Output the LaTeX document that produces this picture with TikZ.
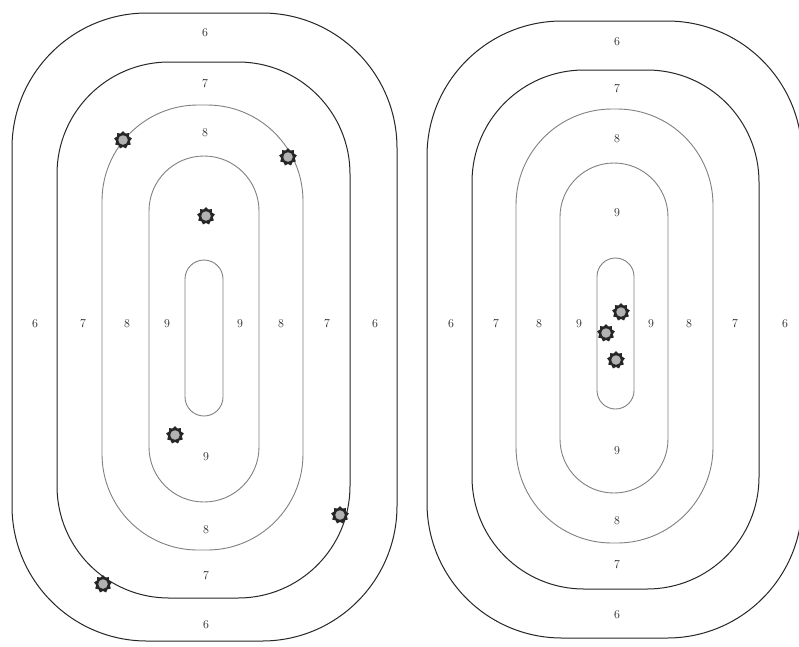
\documentclass[tikz,border=0pt]{standalone}
\usetikzlibrary{shapes.geometric}
\begin{document}
\begin{tikzpicture}[x=1pt,y=-1pt,
 ringdark/.style={draw=black!85,line width=1pt},
 ringlight/.style={draw=black!50,line width=0.9pt},
 lbl/.style={font=\fontsize{12}{14}\selectfont,inner sep=0pt,text=black!85},
 hole/.style={star,star points=9,star point ratio=1.3,minimum size=18pt,inner sep=0pt,fill=black!85,draw=none},
 holein/.style={circle,fill=black!30,minimum size=9.5pt,inner sep=0pt}]
\useasboundingbox (0,0) rectangle (799,646);
\fill[white] (0,0) rectangle (799,646);
% left target
\draw[ringdark,rounded corners=135] (12,13) rectangle (397,641);
\draw[ringdark,rounded corners=112] (57,62) rectangle (350,598);
\draw[ringlight,rounded corners=96] (102,105) rectangle (303,550);
\draw[ringlight,rounded corners=55] (149,156) rectangle (259,502);
\draw[ringlight,rounded corners=19] (185,260) rectangle (223,416);
% right target
\draw[ringdark,rounded corners=135] (427,21) rectangle (802,638);
\draw[ringdark,rounded corners=112] (472,70) rectangle (759,589);
\draw[ringlight,rounded corners=96] (516,109) rectangle (713,543);
\draw[ringlight,rounded corners=54] (560,163) rectangle (668,493);
\draw[ringlight,rounded corners=18.5] (597,258) rectangle (634,409);
% left labels
\node[lbl] (l6t) at (205,33) {6};
\node[lbl] (l7t) at (205,84) {7};
\node[lbl] (l8t) at (205,133) {8};
\node[lbl] (l6a) at (35,324) {6};
\node[lbl] (l7a) at (83,324) {7};
\node[lbl] (l8a) at (127,324) {8};
\node[lbl] (l9a) at (167,324) {9};
\node[lbl] (l9b) at (240,324) {9};
\node[lbl] (l8b) at (281,324) {8};
\node[lbl] (l7b) at (327,324) {7};
\node[lbl] (l6b) at (375,324) {6};
\node[lbl] (l9d) at (206,457) {9};
\node[lbl] (l8d) at (206,530) {8};
\node[lbl] (l7d) at (206,576) {7};
\node[lbl] (l6d) at (206,625) {6};
% right labels
\node[lbl] (r6t) at (617,42) {6};
\node[lbl] (r7t) at (617,89) {7};
\node[lbl] (r8t) at (617,139) {8};
\node[lbl] (r9t) at (617,213) {9};
\node[lbl] (r6a) at (451,324) {6};
\node[lbl] (r7a) at (496,324) {7};
\node[lbl] (r8a) at (539,324) {8};
\node[lbl] (r9a) at (579,324) {9};
\node[lbl] (r9b) at (651,324) {9};
\node[lbl] (r8b) at (689,324) {8};
\node[lbl] (r7b) at (735,324) {7};
\node[lbl] (r6b) at (785,324) {6};
\node[lbl] (r9d) at (617,451) {9};
\node[lbl] (r8d) at (617,521) {8};
\node[lbl] (r7d) at (617,565) {7};
\node[lbl] (r6d) at (617,615) {6};
% bullet holes
\foreach \n/\p in {h1/{(123,140)},h2/{(288,157)},h3/{(206,216)},h4/{(175,435)},h5/{(340,515)},h6/{(103,584)},h7/{(621,312)},h8/{(606,333)},h9/{(616,360)}}{
  \node[hole] (\n) at \p {};
  \node[holein] (\n c) at (\n) {};
}
\end{tikzpicture}
\end{document}
